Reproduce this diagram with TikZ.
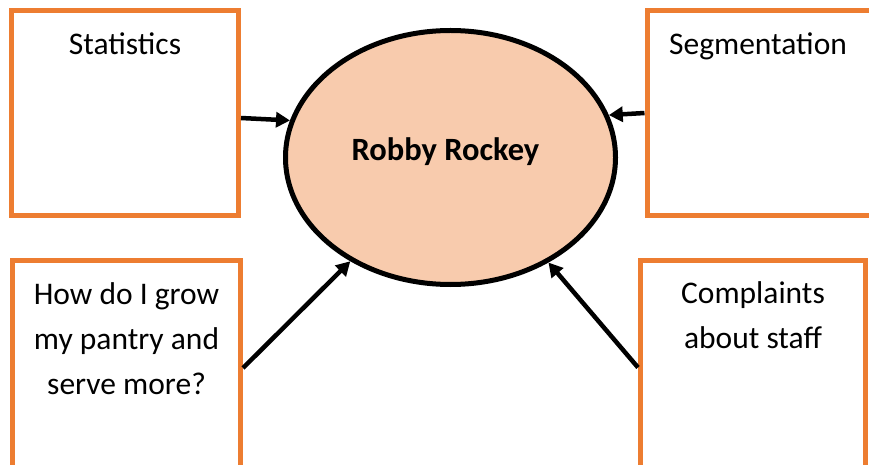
\documentclass[tikz,border=0pt]{standalone}
\usepackage{fontspec}
\setmainfont{Carlito}
\usepackage{tikz}
\usetikzlibrary{arrows.meta}
\usetikzlibrary{shapes.geometric}
\usetikzlibrary{positioning}
\definecolor{boxorange}{HTML}{ED7D31}
\definecolor{hubfill}{HTML}{F8CBAD}
\tikzset{
  >={Triangle[length=14pt,width=15pt]},
  line/.style={draw, ->, line width=4.5pt}
}

\begin{document}
\begin{tikzpicture}[x=1pt, y=1pt]
    % Define styles
    \tikzstyle{block} = [rectangle, draw=boxorange, line width=5pt, fill=white, inner sep=0pt]
    \tikzstyle{blocktext} = [inner sep=0pt, outer sep=0pt, align=center, font=\fontsize{31.5}{45}\selectfont]
    \tikzstyle{hub} = [ellipse, draw, line width=5pt, fill=hubfill, inner sep=0pt, minimum width=330pt, minimum height=254pt]
    \clip (0,0) rectangle (869,464);

    % Place nodes
    \node [block, minimum width=227pt, minimum height=205pt] (stats) at (125,351) {};
    \node [block, minimum width=234pt, minimum height=205pt] (segment) at (764,351) {};
    \node [block, minimum width=228pt, minimum height=215pt] (grow) at (126.5,96) {};
    \node [block, minimum width=225pt, minimum height=215pt] (complaints) at (753,96.5) {};
    \node [hub] (robby) at (450.5,306.5) {};

    \node [blocktext, below=25pt of stats.north] {Statistics};
    \node [blocktext, below=25pt of segment.north, xshift=-6pt] {Segmentation};
    \node [blocktext, below=25pt of grow.north] {How do I grow\\my pantry and\\serve more?};
    \node [blocktext, below=24pt of complaints.north] {Complaints\\about staff};
    \node [font=\fontsize{32.5}{38}\selectfont\bfseries, inner sep=0pt] at ([xshift=-5pt,yshift=6pt]robby.center) {Robby Rockey};

    % Draw edges
    \path [line] ([yshift=-5pt]stats.east) -- (robby.167.5);
    \path [line] (segment.west) -- (robby.15.4);
    \path [line] (grow.east) -- (robby.226.9);
    \path [line] (complaints.west) -- (robby.313.7);

\end{tikzpicture}
\end{document}
